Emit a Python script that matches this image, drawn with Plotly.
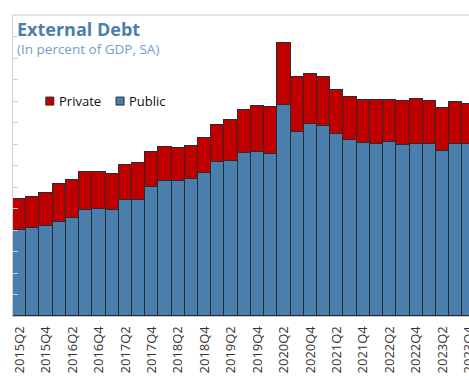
import plotly.graph_objects as go

# Quarterly categories, 2015Q2 through 2023Q4
years = list(range(2015, 2024))
quarters = [f"{y}Q{q}" for y in years for q in (1, 2, 3, 4)][1:]

# External debt components, percent of GDP (seasonally adjusted)
public = [19.9, 20.5, 20.9, 21.9, 22.9, 24.7, 25.0, 24.7, 26.9, 27.0,
          29.9, 31.4, 31.4, 31.8, 33.2, 35.8, 36.0, 38.0, 38.2, 37.6,
          49.1, 42.9, 44.6, 44.2, 42.3, 40.9, 40.2, 40.1, 40.4, 39.7,
          40.1, 40.0, 38.4, 40.0, 40.0]
private = [7.2, 7.2, 7.7, 8.9, 8.7, 8.9, 8.5, 8.3, 8.2, 8.5,
           8.3, 7.9, 7.7, 7.7, 8.1, 8.7, 9.5, 9.9, 10.6, 11.1,
           14.3, 12.6, 11.7, 11.4, 10.3, 10.1, 10.0, 10.1, 9.8, 10.2,
           10.3, 10.0, 9.9, 9.7, 9.2]

tick_labels = quarters[::2]

BLUE = "#4a7fad"
RED = "#c00000"
EDGE = "#2b2b2b"

fig = go.Figure()
fig.add_trace(go.Bar(x=quarters, y=public, name="Public",
                     marker=dict(color=BLUE, line=dict(color=EDGE, width=1))))
fig.add_trace(go.Bar(x=quarters, y=private, name="Private",
                     marker=dict(color=RED, line=dict(color=EDGE, width=1))))

# Compact legend: small swatches with labels, placed in paper coordinates
legend_items = [("Private", RED, 0.072), ("Public", BLUE, 0.226)]
shapes = [dict(type="line", xref="paper", yref="paper", x0=0, x1=1, y0=1, y1=1,
               line=dict(color="#e2e2e2", width=2))]
annotations = [
    dict(text="<b>External Debt</b>", xref="paper", yref="paper", x=0.005, y=1.0,
         xanchor="left", yanchor="top", showarrow=False,
         font=dict(size=18, color="#4a7fad")),
    dict(text="(In percent of GDP, SA)", xref="paper", yref="paper", x=0.005, y=0.925,
         xanchor="left", yanchor="top", showarrow=False,
         font=dict(size=13.5, color="#6f9fcb")),
]
sw = 8 / 456
sh = 8 / 301
for label, color, x0 in legend_items:
    shapes.append(dict(type="rect", xref="paper", yref="paper",
                       x0=x0, x1=x0 + sw, y0=0.714 - sh / 2, y1=0.714 + sh / 2,
                       fillcolor=color, line=dict(color=EDGE, width=1)))
    annotations.append(dict(text=label, xref="paper", yref="paper",
                            x=x0 + sw + 0.006, y=0.714, xanchor="left", yanchor="middle",
                            showarrow=False, font=dict(size=13, color="#111")))

fig.update_layout(
    width=469, height=380,
    margin=dict(l=13, r=0, t=15, b=64, autoexpand=False),
    barmode="stack", bargap=0,
    plot_bgcolor="white", paper_bgcolor="white",
    font=dict(family="Open Sans", size=12, color="#222"),
    showlegend=False,
    xaxis=dict(
        type="category", range=[-0.5, 34.0], automargin=False,
        tickmode="array", tickvals=tick_labels, ticktext=tick_labels,
        tickangle=-90, tickfont=dict(size=13, color="#333"),
        ticklabelstandoff=4,
        showline=True, linecolor="#c8c8c8", linewidth=1,
        ticks="", showgrid=False, zeroline=False,
    ),
    yaxis=dict(
        range=[0, 70], dtick=5, showticklabels=False, automargin=False,
        ticks="inside", ticklen=5, tickcolor="#d0d0d0",
        showline=True, linecolor="#d0d0d0", linewidth=1,
        showgrid=False, zeroline=False,
    ),
    shapes=shapes,
    annotations=annotations,
)

fig.write_html("out.html")
